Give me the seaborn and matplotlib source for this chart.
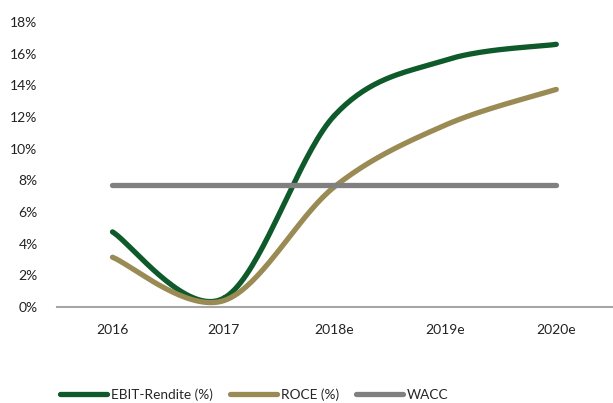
import matplotlib.pyplot as plt
import seaborn as sns
import pandas as pd
import numpy as np

years = ['2016', '2017', '2018e', '2019e', '2020e']
ebit = [4.75, 0.55, 12.1, 15.6, 16.6]
roce = [3.15, 0.40, 7.6, 11.5, 13.75]
wacc = [7.7, 7.7, 7.7, 7.7, 7.7]

colors = {'EBIT-Rendite (%)': '#0E5A2B', 'ROCE (%)': '#9A8B55', 'WACC': '#808080'}


def smooth(vals, n=40):
    # Catmull-Rom curve through the points, like Excel's "smoothed line"
    pts = np.column_stack([np.arange(len(vals)), vals]).astype(float)
    p = np.vstack([pts[0], pts, pts[-1]])
    xs, ys = [], []
    for i in range(1, len(p) - 2):
        t = np.linspace(0, 1, n)[:, None]
        p0, p1, p2, p3 = p[i - 1], p[i], p[i + 1], p[i + 2]
        c = 0.5 * ((2 * p1) + (-p0 + p2) * t + (2 * p0 - 5 * p1 + 4 * p2 - p3) * t ** 2
                   + (-p0 + 3 * p1 - 3 * p2 + p3) * t ** 3)
        xs.extend(c[:, 0]); ys.extend(c[:, 1])
    return xs, ys


frames = []
for name, vals in [('EBIT-Rendite (%)', ebit), ('ROCE (%)', roce), ('WACC', wacc)]:
    xs, ys = smooth(vals)
    frames.append(pd.DataFrame({'x': xs, 'y': ys, 'serie': name}))
df = pd.concat(frames, ignore_index=True)

sns.set_style('white')
plt.rcParams['font.family'] = ['Lato', 'DejaVu Sans']

fig = plt.figure(figsize=(6.13, 4.03), dpi=100)
ax = fig.add_axes([0.093, 0.238, 0.905, 0.707])
sns.lineplot(data=df, x='x', y='y', hue='serie', palette=colors, sort=False,
             estimator=None, linewidth=3.8, ax=ax, legend=False,
             solid_capstyle='round')

ax.set_xlim(-0.5, 4.5)
ax.set_ylim(0, 18)
ax.set_xticks(range(len(years)))
ax.set_xticklabels(years)
ax.set_yticks(range(0, 19, 2))
ax.set_yticklabels([f'{v}%' for v in range(0, 19, 2)])
ax.tick_params(axis='both', length=0, labelsize=10, colors='#222222')
ax.tick_params(axis='x', pad=12)
ax.tick_params(axis='y', pad=14)
ax.set_xlabel('')
ax.set_ylabel('')
for s in ['left', 'top', 'right']:
    ax.spines[s].set_visible(False)
ax.spines['bottom'].set_color('#A6A6A6')
ax.spines['bottom'].set_linewidth(1.5)

handles = [plt.Line2D([], [], color=c, lw=3.8, solid_capstyle='round') for c in colors.values()]
fig.legend(handles, list(colors.keys()), loc='lower center', bbox_to_anchor=(0.415, -0.025),
           ncol=3, frameon=False, fontsize=9.8, handlelength=3.4, columnspacing=1.3,
           handletextpad=0.3)

fig.savefig('out.png', dpi=100)
